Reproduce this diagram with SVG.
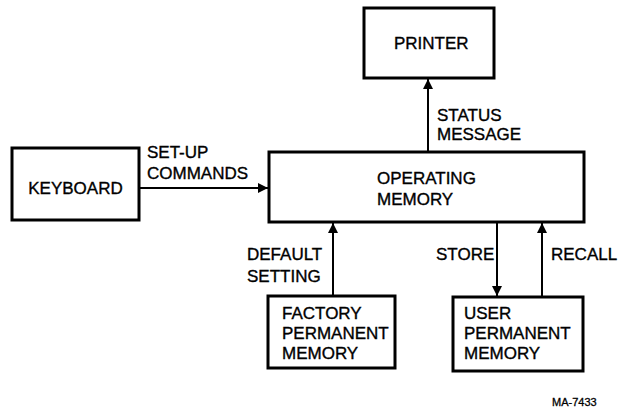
<svg xmlns="http://www.w3.org/2000/svg" width="621" height="410" viewBox="0 0 621 410">
<style>
.box{fill:#fff;stroke:#000;stroke-width:3}
.t{font-family:"Liberation Sans",Arial,sans-serif;font-size:17px;fill:#000;stroke:#000;stroke-width:0.35}
.s{font-family:"Liberation Sans",Arial,sans-serif;font-size:11px;fill:#000;stroke:#000;stroke-width:0.3}
.c{stroke:#000;stroke-width:2;fill:none;marker-end:url(#ah)}
</style>
<defs>
<marker id="ah" viewBox="0 0 10 10" refX="10" refY="5" markerWidth="5" markerHeight="5" markerUnits="strokeWidth" orient="auto">
<path d="M0,0 L10,5 L0,10 z" fill="#000"/>
</marker>
</defs>
<rect width="621" height="410" fill="#fff"/>
<g id="connectors">
<line class="c" x1="139" y1="188" x2="268" y2="188"/>
<line class="c" x1="428" y1="152" x2="428" y2="79"/>
<line class="c" x1="333" y1="296" x2="333" y2="223"/>
<line class="c" x1="497" y1="222" x2="497" y2="296"/>
<line class="c" x1="542" y1="297" x2="542" y2="223"/>
<text class="t" x="147" y="158">SET-UP</text>
<text class="t" x="147" y="179">COMMANDS</text>
<text class="t" x="437" y="121">STATUS</text>
<text class="t" x="437" y="140">MESSAGE</text>
<text class="t" x="247" y="260">DEFAULT</text>
<text class="t" x="247" y="282">SETTING</text>
<text class="t" x="436" y="260">STORE</text>
<text class="t" x="551" y="260">RECALL</text>
</g>
<g id="keyboard">
<rect class="box" x="12" y="148" width="127" height="72"/>
<text class="t" x="75.5" y="194" text-anchor="middle">KEYBOARD</text>
</g>
<g id="operating-memory">
<rect class="box" x="269" y="152" width="315" height="70"/>
<text class="t" x="377" y="184">OPERATING</text>
<text class="t" x="377" y="205">MEMORY</text>
</g>
<g id="printer">
<rect class="box" x="364" y="8" width="130" height="70"/>
<text class="t" x="394" y="49">PRINTER</text>
</g>
<g id="factory-permanent-memory">
<rect class="box" x="268" y="296" width="127" height="72"/>
<text class="t" x="282" y="319">FACTORY</text>
<text class="t" x="282" y="339">PERMANENT</text>
<text class="t" x="282" y="359">MEMORY</text>
</g>
<g id="user-permanent-memory">
<rect class="box" x="453" y="297" width="130" height="74"/>
<text class="t" x="464" y="319">USER</text>
<text class="t" x="464" y="339">PERMANENT</text>
<text class="t" x="464" y="359">MEMORY</text>
</g>
<text class="s" x="552" y="406">MA-7433</text>
</svg>
